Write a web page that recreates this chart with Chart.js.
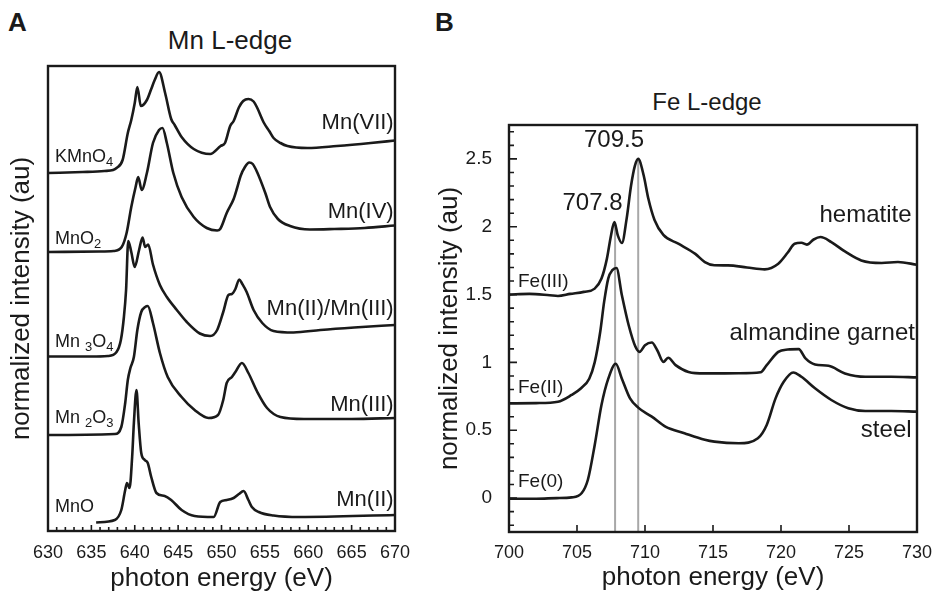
<!DOCTYPE html>
<html>
<head>
<meta charset="utf-8">
<title>Mn and Fe L-edge spectra</title>
<script src="https://cdn.jsdelivr.net/npm/chart.js@4.4.1/dist/chart.umd.min.js"></script>
<style>
  body { margin: 0; background: #fff; width: 935px; height: 594px; position: relative; overflow: hidden;
         font-family: "Liberation Sans", Arial, Helvetica, sans-serif; color: #1a1a1a; }
  canvas { position: absolute; top: 0; }
  #chartA { left: 0; }
  #chartB { left: 425px; }
  .panel { position: absolute; font-weight: bold; font-size: 26px; line-height: 26px; }
  .title { position: absolute; line-height: 1; white-space: nowrap; transform: translateX(-50%); }
</style>
</head>
<body>
<div class="panel" style="left:8px; top:9px;">A</div>
<div class="panel" style="left:435px; top:9px;">B</div>
<div class="title" style="left:230px; top:27px; font-size:26px;">Mn L-edge</div>
<div class="title" style="left:707px; top:90px; font-size:24px;">Fe L-edge</div>
<canvas id="chartA" width="470" height="594"></canvas>
<canvas id="chartB" width="510" height="594"></canvas>
<script>
// ---- Panel A: Mn L-edge (stacked, arbitrary units) ----
const mnTicks = [630, 635, 640, 645, 650, 655, 660, 665, 670];

const kmno4E = [630, 634, 636.5, 637.5, 637.9, 638.6, 639.2, 639.6, 640.0, 640.3, 640.7, 641.4, 641.9, 642.3, 642.8,
  643.5, 644.2, 644.6, 645.4, 646.8, 648.7, 649.9, 650.4, 651.0, 651.4, 652.0, 652.5, 653.1, 653.7, 654.1, 654.9,
  655.5, 656.0, 656.8, 657.6, 659.9, 663.3, 667.2, 670];
const kmno4I = [35.8, 35.9, 36.0, 36.1, 36.3, 37.1, 39.8, 41.1, 42.8, 44.4, 42.5, 43.1, 44.2, 45.1, 45.9,
  43.8, 41.2, 40.6, 39.4, 38.2, 37.7, 38.5, 38.8, 40.5, 41.0, 42.35, 43.0, 43.2, 42.95, 42.35, 40.8,
  40.0, 39.3, 38.8, 38.5, 38.3, 38.5, 38.8, 39.05];

const mno2E = [630, 636, 637.55, 638.5, 639.06, 639.6, 640.1, 640.4, 640.8, 641.4, 642.1, 642.8, 643.2, 643.7,
  644.45, 645.4, 646.8, 648.3, 649.5, 649.85, 650.6, 651.4, 651.8, 652.2, 652.7, 653.2, 653.6, 654.1, 655.05,
  655.6, 656.5, 657.9, 660.2, 663.0, 666.5, 670];
const mno2I = [27.9, 27.95, 28.0, 28.4, 29.8, 32.4, 34.4, 35.4, 34.1, 35.8, 38.8, 40.1, 40.3, 38.8,
  35.8, 33.4, 31.4, 30.3, 30.05, 30.2, 31.8, 33.2, 34.3, 35.5, 36.4, 36.85, 36.7, 35.9, 33.8,
  32.4, 31.2, 30.5, 30.15, 30.2, 30.3, 30.55];

const mn3o4E = [630, 635, 636.9, 637.9, 638.4, 638.75, 639.0, 639.25, 639.6, 640.0, 640.5, 640.9, 641.2, 641.55,
  642.1, 642.9, 643.7, 644.85, 646.0, 647.5, 648.7, 649.5, 650.2, 650.8, 651.2, 651.6, 652.05, 652.4, 652.9,
  653.7, 654.7, 656.0, 658.3, 661.4, 665.3, 670];
const mn3o4I = [17.45, 17.45, 17.5, 17.9, 19.1, 21.4, 24.1, 29.0, 27.9, 26.4, 28.1, 29.35, 28.4, 28.65,
  26.65, 24.6, 23.4, 22.1, 20.9, 19.75, 19.5, 20.1, 21.9, 23.6, 23.7, 24.2, 25.15, 24.7, 23.9,
  22.1, 20.8, 20.0, 19.85, 20.1, 20.35, 20.6];

const mn2o3E = [630, 637.7, 638.45, 638.9, 639.2, 639.5, 639.9, 640.3, 640.75, 641.2, 641.5, 642.1, 642.9, 643.8,
  645.4, 646.9, 648.5, 649.6, 650.2, 650.6, 651.2, 651.6, 652.35, 653.1, 654.1, 655.25, 656.8, 659.5, 665, 670];
const mn2o3I = [9.6, 9.7, 10.4, 12.8, 15.1, 16.3, 17.4, 20.1, 21.9, 22.4, 22.5, 20.8, 17.8, 15.4,
  13.4, 12.1, 11.3, 11.6, 13.1, 14.8, 15.4, 15.9, 16.8, 15.8, 13.95, 12.3, 11.4, 11.2, 11.2, 11.3];

const mnoE = [635.55, 637.7, 638.45, 638.9, 639.1, 639.4, 639.7, 639.9, 640.2, 640.45, 640.75, 641.15, 641.5,
  641.9, 642.5, 643.45, 644.2, 645.4, 646.9, 649.1, 649.85, 650.6, 651.4, 652.0, 652.55, 653.1, 653.5, 654.3,
  656.0, 659, 670];
const mnoI = [0.85, 1.1, 2.1, 4.1, 4.8, 4.3, 7.4, 10.8, 14.1, 10.8, 7.8, 7.1, 6.8,
  5.4, 3.8, 3.5, 3.1, 2.1, 1.5, 1.4, 2.9, 3.1, 3.3, 3.7, 4.0, 3.1, 2.4, 1.9,
  1.55, 1.4, 1.6];

// ---- Panel B: Fe L-edge ----
const feTicksX = [700, 705, 710, 715, 720, 725, 730];
const feTicksY = [0, 0.5, 1, 1.5, 2, 2.5];

const hematiteE = [700, 701.5, 703, 703.6, 704.5, 705.5, 706.3, 706.8, 707.2, 707.5, 707.75, 708.0, 708.3, 708.65,
  708.97, 709.26, 709.5, 709.9, 710.24, 710.7, 711.35, 712.45, 713.7, 714.4, 715.1, 716.1, 717.5, 718.8, 719.8,
  720.5, 721.0, 721.5, 721.9, 722.4, 722.9, 723.7, 724.7, 725.9, 727.4, 728.6, 730];
const hematiteI = [1.50, 1.505, 1.495, 1.49, 1.505, 1.52, 1.544, 1.618, 1.765, 1.936, 2.034, 1.936, 1.88, 2.06,
  2.30, 2.45, 2.50, 2.38, 2.21, 2.05, 1.94, 1.875, 1.80, 1.74, 1.716, 1.715, 1.70, 1.686, 1.728,
  1.81, 1.875, 1.882, 1.868, 1.906, 1.924, 1.887, 1.818, 1.752, 1.733, 1.74, 1.72];

const garnetE = [700, 702, 703.6, 704.6, 705.3, 705.9, 706.3, 706.7, 707.0, 707.3, 707.6, 707.9, 708.3, 708.8,
  709.3, 709.6, 710.0, 710.5, 710.9, 711.35, 711.7, 712.25, 713.2, 714.4, 716.9, 718.5, 718.95, 719.8, 720.5,
  721.3, 721.8, 722.5, 723.5, 724.7, 726.2, 728.1, 730];
const garnetI = [0.698, 0.70, 0.71, 0.76, 0.81, 0.88, 1.0, 1.22, 1.45, 1.62, 1.68, 1.696, 1.495, 1.274,
  1.115, 1.078, 1.127, 1.147, 1.09, 1.004, 1.034, 0.98, 0.93, 0.919, 0.92, 0.927, 0.98, 1.078, 1.095,
  1.098, 1.03, 0.985, 0.975, 0.919, 0.894, 0.894, 0.89];

const steelE = [700, 702, 703.5, 704.6, 705.35, 705.8, 706.3, 706.8, 707.3, 707.85, 708.3, 708.9, 709.5, 710.5,
  711.5, 712.9, 714.4, 715.1, 716.9, 718.3, 718.95, 719.6, 720.2, 720.9, 721.5, 722.5, 723.7, 724.95, 726.2,
  728.1, 730];
const steelI = [-0.005, -0.005, 0.0, 0.005, 0.037, 0.135, 0.39, 0.686, 0.88, 0.99, 0.88, 0.735, 0.667, 0.60,
  0.527, 0.478, 0.43, 0.416, 0.404, 0.441, 0.539, 0.735, 0.857, 0.926, 0.894, 0.809, 0.723, 0.662, 0.642,
  0.642, 0.637];

// marker lines at the two hematite L3 peaks
const peakEnergies = [707.8, 709.5];
const peakTops = [2.03, 2.5];

const INK = '#1a1a1a';
const toXY = (xs, ys) => xs.map((x, i) => ({ x: x, y: ys[i] }));

function curve(xs, ys) {
  return {
    data: toXY(xs, ys),
    borderColor: INK,
    borderWidth: 2.6,
    pointRadius: 0,
    fill: false,
    cubicInterpolationMode: 'monotone'
  };
}

// box, inward ticks and text labels
const framePlugin = {
  id: 'frame',
  afterDatasetsDraw(chart, args, o) {
    const { ctx, chartArea: a } = chart;
    const x = chart.scales.x, y = chart.scales.y;
    ctx.save();
    ctx.strokeStyle = INK;
    ctx.lineWidth = 2.4;
    ctx.strokeRect(a.left, a.top, a.right - a.left, a.bottom - a.top);

    ctx.lineWidth = 1.6;
    ctx.beginPath();
    const tickX = (vals, len) => vals.forEach(v => {
      const p = x.getPixelForValue(v);
      ctx.moveTo(p, a.bottom); ctx.lineTo(p, a.bottom - len);
    });
    const tickY = (vals, len) => vals.forEach(v => {
      const p = y.getPixelForValue(v);
      ctx.moveTo(a.left, p); ctx.lineTo(a.left + len, p);
    });
    tickX(o.xMajor || [], o.xMajorLen || 0);
    tickX(o.xMinor || [], o.xMinorLen || 0);
    tickY(o.yMajor || [], o.yMajorLen || 0);
    tickY(o.yMinor || [], o.yMinorLen || 0);
    ctx.stroke();

    ctx.fillStyle = INK;
    ctx.textBaseline = 'middle';
    (o.labels || []).forEach(l => {
      const parts = typeof l.text === 'string' ? [[l.text, 0]] : l.text;
      const font = s => s + 'px "Liberation Sans", Arial, sans-serif';
      let w = 0;
      parts.forEach(([t, sub]) => { ctx.font = font(sub ? l.size * 0.72 : l.size); w += ctx.measureText(t).width; });
      let px = x.getPixelForValue(l.x);
      const py = y.getPixelForValue(l.y);
      if (l.align === 'right') px -= w;
      else if (l.align === 'center') px -= w / 2;
      ctx.textAlign = 'left';
      parts.forEach(([t, sub]) => {
        ctx.font = font(sub ? l.size * 0.72 : l.size);
        ctx.fillText(t, px, sub ? py + l.size * 0.32 : py);
        px += ctx.measureText(t).width;
      });
    });
    ctx.restore();
  }
};

const range = (a, b, s) => { const r = []; for (let v = a; v <= b + 1e-9; v += s) r.push(+v.toFixed(2)); return r; };

// ---- chart A ----
new Chart(document.getElementById('chartA'), {
  type: 'line',
  data: {
    datasets: [
      curve(kmno4E, kmno4I),
      curve(mno2E, mno2I),
      curve(mn3o4E, mn3o4I),
      curve(mn2o3E, mn2o3I),
      curve(mnoE, mnoI)
    ]
  },
  plugins: [framePlugin],
  options: {
    responsive: false,
    devicePixelRatio: 1,
    animation: false,
    events: [],
    layout: { padding: { left: 0, right: 75, top: 66, bottom: 0 } },
    plugins: {
      legend: { display: false },
      tooltip: { enabled: false },
      frame: {
        xMajor: mnTicks, xMajorLen: 6,
        xMinor: range(630, 670, 1), xMinorLen: 4,
        labels: [
          { text: [['KMnO', 0], ['4', 1]], x: 630.8, y: 37.4, size: 18, align: 'left' },
          { text: [['MnO', 0], ['2', 1]], x: 630.8, y: 29.2, size: 18, align: 'left' },
          { text: [['Mn ', 0], ['3', 1], ['O', 0], ['4', 1]], x: 630.8, y: 18.9, size: 18, align: 'left' },
          { text: [['Mn ', 0], ['2', 1], ['O', 0], ['3', 1]], x: 630.8, y: 11.3, size: 18, align: 'left' },
          { text: 'MnO', x: 630.8, y: 2.4, size: 18, align: 'left' },
          { text: 'Mn(VII)', x: 669.85, y: 40.8, size: 22, align: 'right' },
          { text: 'Mn(IV)', x: 669.85, y: 31.9, size: 22, align: 'right' },
          { text: 'Mn(II)/Mn(III)', x: 669.85, y: 22.2, size: 22, align: 'right' },
          { text: 'Mn(III)', x: 669.85, y: 12.6, size: 22, align: 'right' },
          { text: 'Mn(II)', x: 669.85, y: 3.1, size: 22, align: 'right' }
        ]
      }
    },
    scales: {
      x: {
        type: 'linear', min: 630, max: 670,
        afterBuildTicks: s => { s.ticks = mnTicks.map(v => ({ value: v })); },
        afterFit: s => { s.height = 63; },
        grid: { display: false }, border: { display: false },
        ticks: { font: { size: 18 }, color: INK, padding: 3, maxRotation: 0, autoSkip: false, callback: v => String(v) },
        title: { display: true, text: 'photon energy (eV)', font: { size: 26 }, color: INK, padding: { top: 0, bottom: 0 } }
      },
      y: {
        type: 'linear', min: 0, max: 46.5,
        afterFit: s => { s.width = 48; },
        grid: { display: false }, border: { display: false },
        ticks: { display: false },
        title: { display: true, text: 'normalized intensity (au)', font: { size: 26 }, color: INK, padding: { top: 6, bottom: 0 } }
      }
    }
  }
});

// ---- chart B ----
const peakLines = peakEnergies.map((e, i) => ({
  data: [{ x: e, y: -0.25 }, { x: e, y: peakTops[i] }],
  borderColor: '#a8a8a8',
  borderWidth: 2,
  pointRadius: 0,
  fill: false
}));

new Chart(document.getElementById('chartB'), {
  type: 'line',
  data: {
    datasets: [
      curve(hematiteE, hematiteI),
      curve(garnetE, garnetI),
      curve(steelE, steelI)
    ].concat(peakLines)
  },
  plugins: [framePlugin],
  options: {
    responsive: false,
    devicePixelRatio: 1,
    animation: false,
    events: [],
    layout: { padding: { left: 0, right: 18, top: 125, bottom: 0 } },
    plugins: {
      legend: { display: false },
      tooltip: { enabled: false },
      frame: {
        xMajor: feTicksX, xMajorLen: 7,
        yMajor: feTicksY, yMajorLen: 8,
        yMinor: range(-0.2, 2.7, 0.1), yMinorLen: 5,
        labels: [
          { text: '709.5', x: 707.72, y: 2.635, size: 24, align: 'center' },
          { text: '707.8', x: 706.14, y: 2.17, size: 24, align: 'center' },
          { text: 'hematite', x: 729.6, y: 2.083, size: 24, align: 'right' },
          { text: 'almandine garnet', x: 729.85, y: 1.213, size: 24, align: 'right' },
          { text: 'steel', x: 729.6, y: 0.502, size: 24, align: 'right' },
          { text: 'Fe(III)', x: 700.66, y: 1.593, size: 19, align: 'left' },
          { text: 'Fe(II)', x: 700.66, y: 0.811, size: 19, align: 'left' },
          { text: 'Fe(0)', x: 700.66, y: 0.122, size: 19, align: 'left' }
        ]
      }
    },
    scales: {
      x: {
        type: 'linear', min: 700, max: 730,
        afterBuildTicks: s => { s.ticks = feTicksX.map(v => ({ value: v })); },
        afterFit: s => { s.height = 62; },
        grid: { display: false }, border: { display: false },
        ticks: { font: { size: 18 }, color: INK, padding: 2, maxRotation: 0, autoSkip: false, callback: v => String(v) },
        title: { display: true, text: 'photon energy (eV)', font: { size: 26 }, color: INK, padding: { top: 0, bottom: 1 } }
      },
      y: {
        type: 'linear', min: -0.25, max: 2.75,
        afterBuildTicks: s => { s.ticks = feTicksY.map(v => ({ value: v })); },
        afterFit: s => { s.width = 84; },
        grid: { display: false }, border: { display: false },
        ticks: { font: { size: 19 }, color: INK, padding: 9, autoSkip: false, callback: v => String(v) },
        title: { display: true, text: 'normalized intensity (au)', font: { size: 26 }, color: INK, padding: { top: 9, bottom: 0 } }
      }
    }
  }
});
</script>
</body>
</html>
